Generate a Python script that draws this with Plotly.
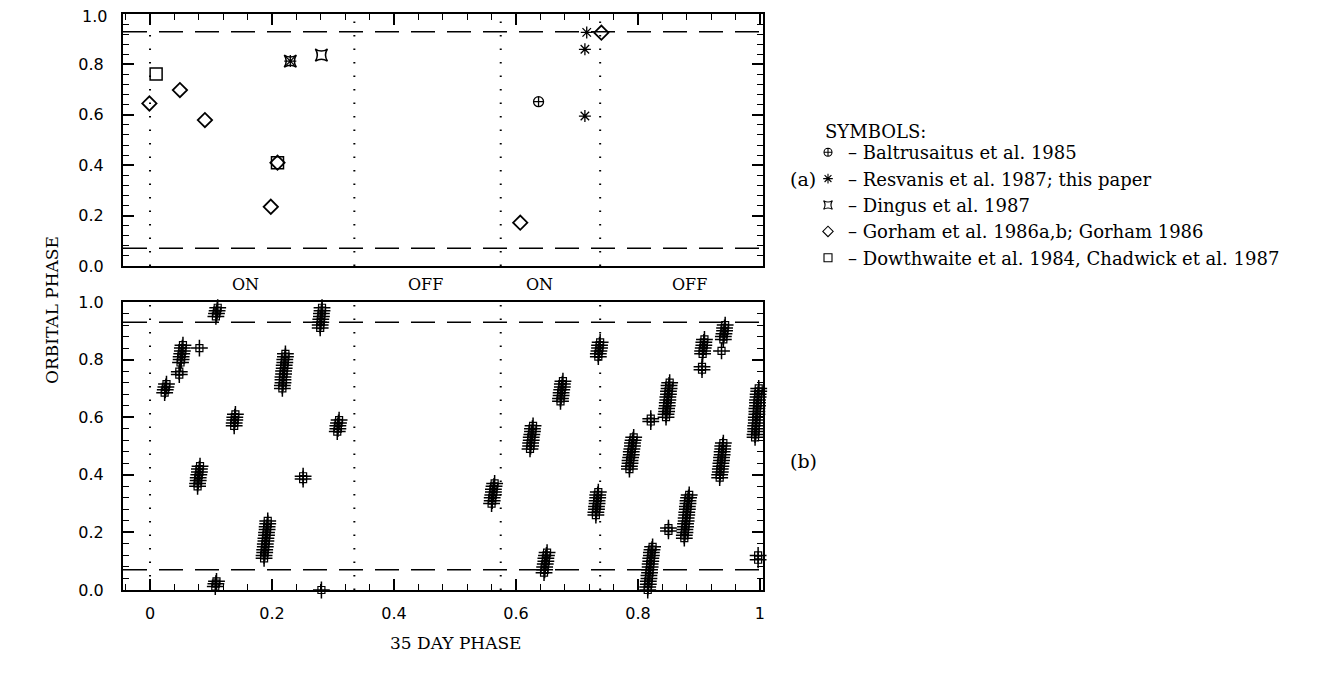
import plotly.graph_objects as go

W, H = 1341, 677
OFF = 8  # page margin offset of the rendered figure
def px(x): return (x - OFF) / W
def py(y): return 1 - (y - OFF) / H

SERIF = "DejaVu Serif"
SANS = "DejaVu Sans"

# ---------------- panel (a) data ----------------
balt_x = [0.637]
balt_y = [0.652]
resv_x = [0.713, 0.713, 0.716, 0.230]
resv_y = [0.595, 0.860, 0.927, 0.813]
ding_x = [0.281, 0.230]
ding_y = [0.837, 0.813]
gorh_x = [-0.001, 0.049, 0.090, 0.198, 0.607, 0.740, 0.209]
gorh_y = [0.645, 0.698, 0.579, 0.235, 0.172, 0.926, 0.410]
dowt_x = [0.010, 0.209]
dowt_y = [0.762, 0.410]

# ---------------- panel (b) data ----------------
bot_x = [
    0.024, 0.025, 0.026, 0.027,
    0.048, 0.048,
    0.050, 0.051, 0.051, 0.052, 0.053, 0.053, 0.054,
    0.081,
    0.078, 0.078, 0.079, 0.079, 0.080, 0.081, 0.081, 0.082,
    0.108, 0.109, 0.110, 0.111,
    0.107, 0.108, 0.109,
    0.138, 0.138, 0.139, 0.139, 0.140,
    0.187, 0.187, 0.188, 0.188, 0.189, 0.189, 0.190, 0.190, 0.191, 0.191, 0.192, 0.192, 0.193, 0.193,
    0.217, 0.217, 0.218, 0.218, 0.218, 0.219, 0.219, 0.220, 0.220, 0.221, 0.221, 0.222, 0.222,
    0.251, 0.251,
    0.279, 0.279, 0.280, 0.280, 0.281, 0.281, 0.282, 0.282,
    0.281,
    0.307, 0.308, 0.308, 0.309, 0.310,
    0.560, 0.561, 0.561, 0.562, 0.563, 0.563, 0.564, 0.565,
    0.623, 0.624, 0.624, 0.625, 0.625, 0.626, 0.627, 0.627, 0.628,
    0.673, 0.673, 0.674, 0.674, 0.675, 0.676, 0.676, 0.677,
    0.735, 0.735, 0.736, 0.737, 0.737, 0.738,
    0.731, 0.731, 0.732, 0.732, 0.733, 0.733, 0.734, 0.734, 0.735,
    0.646, 0.647, 0.647, 0.648, 0.649, 0.649, 0.650, 0.651,
    0.816, 0.816, 0.817, 0.817, 0.818, 0.818, 0.819, 0.819, 0.820, 0.820, 0.821, 0.821, 0.822, 0.822, 0.823, 0.824,
    0.786, 0.786, 0.787, 0.787, 0.788, 0.789, 0.789, 0.790, 0.791, 0.791, 0.792, 0.793,
    0.821, 0.821,
    0.846, 0.846, 0.847, 0.847, 0.848, 0.848, 0.849, 0.849, 0.850, 0.850, 0.851, 0.851, 0.852,
    0.850, 0.850,
    0.876, 0.876, 0.877, 0.877, 0.878, 0.878, 0.879, 0.879, 0.880, 0.880, 0.881, 0.881, 0.882, 0.882, 0.883, 0.884,
    0.905, 0.905,
    0.906, 0.906, 0.907, 0.908, 0.908, 0.909,
    0.940, 0.940, 0.941, 0.942, 0.942, 0.943,
    0.937,
    0.934, 0.934, 0.935, 0.935, 0.936, 0.936, 0.937, 0.937, 0.938, 0.938, 0.939, 0.939, 0.940,
    0.992, 0.992, 0.993, 0.993, 0.993, 0.994, 0.994, 0.994, 0.995, 0.995, 0.995, 0.996, 0.996, 0.996, 0.997, 0.997, 0.998, 0.998,
    0.997, 0.997,
]
bot_y = [
    0.685, 0.695, 0.705, 0.715,
    0.748, 0.758,
    0.79, 0.80, 0.81, 0.82, 0.83, 0.84, 0.85,
    0.84,
    0.36, 0.37, 0.38, 0.39, 0.40, 0.41, 0.42, 0.43,
    0.95, 0.96, 0.97, 0.98,
    0.012, 0.022, 0.030,
    0.57, 0.58, 0.59, 0.60, 0.61,
    0.11, 0.12, 0.13, 0.14, 0.15, 0.16, 0.17, 0.18, 0.19, 0.20, 0.21, 0.22, 0.23, 0.24,
    0.70, 0.71, 0.72, 0.73, 0.74, 0.75, 0.76, 0.77, 0.78, 0.79, 0.80, 0.81, 0.82,
    0.385, 0.395,
    0.91, 0.92, 0.93, 0.94, 0.95, 0.96, 0.97, 0.98,
    0.0,
    0.55, 0.56, 0.57, 0.58, 0.59,
    0.30, 0.31, 0.32, 0.33, 0.34, 0.35, 0.36, 0.37,
    0.49, 0.50, 0.51, 0.52, 0.53, 0.54, 0.55, 0.56, 0.57,
    0.655, 0.665, 0.675, 0.685, 0.695, 0.705, 0.715, 0.725,
    0.81, 0.82, 0.83, 0.84, 0.85, 0.86,
    0.26, 0.27, 0.28, 0.29, 0.30, 0.31, 0.32, 0.33, 0.34,
    0.06, 0.07, 0.08, 0.09, 0.10, 0.11, 0.12, 0.13,
    0.00, 0.01, 0.02, 0.03, 0.04, 0.05, 0.06, 0.07, 0.08, 0.09, 0.10, 0.11, 0.12, 0.13, 0.14, 0.15,
    0.42, 0.43, 0.44, 0.45, 0.46, 0.47, 0.48, 0.49, 0.50, 0.51, 0.52, 0.53,
    0.585, 0.595,
    0.60, 0.61, 0.62, 0.63, 0.64, 0.65, 0.66, 0.67, 0.68, 0.69, 0.70, 0.71, 0.72,
    0.205, 0.215,
    0.18, 0.19, 0.20, 0.21, 0.22, 0.23, 0.24, 0.25, 0.26, 0.27, 0.28, 0.29, 0.30, 0.31, 0.32, 0.33,
    0.765, 0.775,
    0.82, 0.83, 0.84, 0.85, 0.86, 0.87,
    0.87, 0.88, 0.89, 0.90, 0.91, 0.92,
    0.83,
    0.39, 0.40, 0.41, 0.42, 0.43, 0.44, 0.45, 0.46, 0.47, 0.48, 0.49, 0.50, 0.51,
    0.53, 0.54, 0.55, 0.56, 0.57, 0.58, 0.59, 0.60, 0.61, 0.62, 0.63, 0.64, 0.65, 0.66, 0.67, 0.68, 0.69, 0.70,
    0.105, 0.12,
]

# ---------------- reference lines / labels ----------------
eclipse_levels = [0.07, 0.93]
state_bounds = [0.0, 0.335, 0.575, 0.738]
state_labels = ["ON", "OFF", "ON", "OFF"]
state_label_x = [0.156, 0.452, 0.639, 0.885]
x_ticks = [0, 0.2, 0.4, 0.6, 0.8, 1.0]
x_ticklabels = ["0", "0.2", "0.4", "0.6", "0.8", "1"]
y_ticks = [0, 0.2, 0.4, 0.6, 0.8, 1.0]
y_ticklabels = ["0.0", "0.2", "0.4", "0.6", "0.8", "1.0"]

legend_title = "SYMBOLS:"
legend_texts = [
    "\u2013 Baltrusaitus et al. 1985",
    "\u2013 Resvanis et al. 1987; this paper",
    "\u2013 Dingus et al. 1987",
    "\u2013 Gorham et al. 1986a,b; Gorham 1986",
    "\u2013 Dowthwaite et al. 1984, Chadwick et al. 1987",
]
legend_symbols = ["circle-cross-open", "asterisk-open", "star-square-open", "diamond-open", "square-open"]

fig = go.Figure()

def mk(sym, size, w=1.5):
    return dict(symbol=sym, size=size, color="black", line=dict(color="black", width=w))

# panel (a) data traces
fig.add_trace(go.Scatter(x=balt_x, y=balt_y, mode="markers", showlegend=False,
                         marker=mk("circle-cross-open", 10, 1.3), xaxis="x", yaxis="y"))
fig.add_trace(go.Scatter(x=resv_x, y=resv_y, mode="markers", showlegend=False,
                         marker=mk("asterisk-open", 10, 1.3), xaxis="x", yaxis="y"))
fig.add_trace(go.Scatter(x=ding_x, y=ding_y, mode="markers", showlegend=False,
                         marker=mk("star-square-open", 11, 1.5), xaxis="x", yaxis="y"))
fig.add_trace(go.Scatter(x=gorh_x, y=gorh_y, mode="markers", showlegend=False,
                         marker=mk("diamond-open", 11, 1.8), xaxis="x", yaxis="y"))
fig.add_trace(go.Scatter(x=dowt_x, y=dowt_y, mode="markers", showlegend=False,
                         marker=mk("square-open", 12, 1.5), xaxis="x", yaxis="y"))

# legend entries (small symbols as in the key)
for i, (nm, sym) in enumerate(zip(legend_texts, legend_symbols)):
    fig.add_trace(go.Scatter(x=[None], y=[None], mode="markers", name=nm,
                             legendrank=i + 1,
                             marker=mk(sym, 8, 1.1), xaxis="x", yaxis="y"))

# panel (b)
fig.add_trace(go.Scatter(x=bot_x, y=bot_y, mode="markers", showlegend=False,
                         marker=mk("square-open", 7, 1.2), xaxis="x2", yaxis="y2", cliponaxis=False))
fig.add_trace(go.Scatter(x=bot_x, y=bot_y, mode="markers", showlegend=False,
                         marker=mk("cross-thin-open", 12, 1.5), xaxis="x2", yaxis="y2", cliponaxis=False))

shapes = []
for ax in ["", "2"]:
    for lv in eclipse_levels:
        shapes.append(dict(type="line", xref="x" + ax + " domain", yref="y" + ax,
                           x0=0, x1=1, y0=lv, y1=lv,
                           line=dict(color="black", width=1.5, dash="24px,12px")))
    for b in state_bounds:
        shapes.append(dict(type="line", xref="x" + ax, yref="y" + ax + " domain",
                           x0=b, x1=b, y0=0, y1=1,
                           line=dict(color="black", width=2, dash="1.5px,12px")))

annotations = []
for lab, lx in zip(state_labels, state_label_x):
    annotations.append(dict(text=lab, x=lx, xref="x2", y=py(284), yref="paper",
                            showarrow=False, font=dict(family=SERIF, size=16, color="black")))
annotations.append(dict(text="(a)", x=px(803), y=py(166), xref="paper", yref="paper",
                        showarrow=False, font=dict(family=SERIF, size=19, color="black")))
annotations.append(dict(text="(b)", x=px(803), y=py(474), xref="paper", yref="paper",
                        showarrow=False, font=dict(family=SERIF, size=19, color="black")))
annotations.append(dict(text="ORBITAL PHASE", x=px(40), y=py(310), xref="paper", yref="paper",
                        textangle=-90, showarrow=False, font=dict(family=SERIF, size=17, color="black")))
annotations.append(dict(text="35 DAY PHASE", x=px(455), y=py(655), xref="paper", yref="paper",
                        showarrow=False, font=dict(family=SERIF, size=17, color="black")))
annotations.append(dict(text=legend_title, x=px(823), y=py(119), xref="paper", yref="paper",
                        xanchor="left", showarrow=False, font=dict(family=SERIF, size=18, color="black")))
# top label of panel (a) y axis, nudged down so it is not cut at the page edge
annotations.append(dict(text=y_ticklabels[-1], x=0, xref="x domain", y=y_ticks[-1], yref="y",
                        xanchor="right", xshift=-14, yshift=-3, showarrow=False,
                        font=dict(family=SANS, size=16, color="black")))

top_y_ticktext = y_ticklabels[:-1] + [""]

xr = [-0.0443, 1.005]
xdom = [px(123), px(763)]
common_x = dict(range=xr, domain=xdom, tickvals=x_ticks, ticktext=x_ticklabels,
                ticks="inside", ticklen=11, tickwidth=1.5, tickcolor="black",
                minor=dict(dtick=0.04, tick0=0, ticks="inside", ticklen=6, tickwidth=1.2, tickcolor="black"),
                showline=True, linecolor="black", linewidth=2, mirror=True,
                showgrid=False, zeroline=False, automargin=False, ticklabelstandoff=8,
                ticklabeloverflow="allow",
                tickfont=dict(family=SANS, size=16, color="black"))
common_y = dict(range=[0, 1], tickvals=y_ticks, ticktext=y_ticklabels,
                ticks="inside", ticklen=11, tickwidth=1.5, tickcolor="black",
                minor=dict(dtick=0.04, tick0=0, ticks="inside", ticklen=6, tickwidth=1.2, tickcolor="black"),
                showline=True, linecolor="black", linewidth=2, mirror="allticks",
                showgrid=False, zeroline=False, automargin=False, ticklabelstandoff=14,
                ticklabeloverflow="allow",
                tickfont=dict(family=SANS, size=16, color="black"))

fig.update_layout(
    width=W, height=H, autosize=False,
    margin=dict(l=0, r=0, t=0, b=0),
    paper_bgcolor="white", plot_bgcolor="white",
    xaxis=dict(common_x, side="top", showticklabels=False, anchor="y"),
    yaxis=dict(common_y, ticktext=top_y_ticktext, domain=[py(266), py(14)], anchor="x"),
    xaxis2=dict(common_x, anchor="y2"),
    yaxis2=dict(common_y, domain=[py(590), py(302)], anchor="x2"),
    shapes=shapes, annotations=annotations,
    legend=dict(x=px(808), y=py(134), xanchor="left", yanchor="top",
                font=dict(family=SERIF, size=18, color="black"),
                bgcolor="rgba(0,0,0,0)", itemwidth=30, tracegroupgap=0),
    showlegend=True,
)

fig.write_html("out.html")
